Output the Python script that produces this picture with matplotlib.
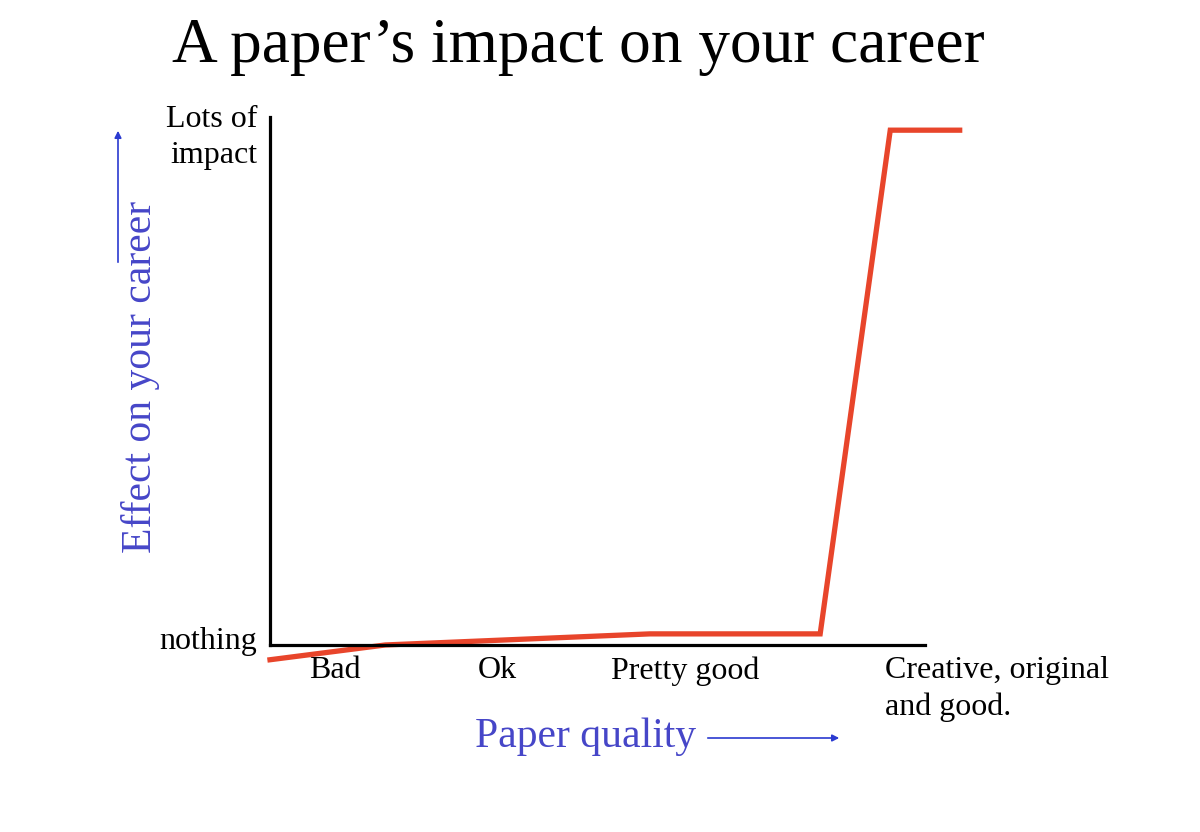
import matplotlib.pyplot as plt

plt.rcParams['font.family'] = ['Liberation Serif', 'DejaVu Serif']

# quality axis (0-100) vs career effect (0-100)
quality = [0, 17.6, 58.0, 84.0, 94.7, 105.3]
effect = [-2.8, 0, 2.1, 2.1, 97.5, 97.5]

x_tick_pos = [9.9, 34.7, 63.4, 93.9]
x_tick_labels = ["Bad", "Ok", "Pretty good", "Creative, original\nand good."]
y_tick_pos = [1.3, 97.5]
y_tick_labels = ["nothing", "Lots of\nimpact"]

blue = '#4646c8'
arrow_blue = '#2a3ad0'
red = '#e8452b'

fig = plt.figure(figsize=(12, 8.32), dpi=100)
ax = fig.add_axes([0.225, 0.2248, 0.5458, 0.6346])

ax.plot(quality, effect, color=red, lw=3.8, clip_on=False, solid_joinstyle='miter')

ax.set_xlim(0, 100)
ax.set_ylim(0, 100)

for s in ['top', 'right']:
    ax.spines[s].set_visible(False)
for s in ['left', 'bottom']:
    ax.spines[s].set_linewidth(2.3)
    ax.spines[s].set_color('black')

ax.set_xticks(x_tick_pos)
ax.set_xticklabels(x_tick_labels, fontsize=23, linespacing=1.35)
ax.set_yticks(y_tick_pos)
ax.set_yticklabels(y_tick_labels, fontsize=23, linespacing=1.35)
ax.tick_params(axis='both', length=0)
ax.tick_params(axis='x', pad=8)
ax.tick_params(axis='y', pad=9)

lbls = ax.get_xticklabels()
lbls[-1].set_ha('left')
lbls[-1].set_multialignment('left')

fig.text(0.482, 0.943, "A paper\u2019s impact on your career", fontsize=45.5,
         ha='center', va='center')

fig.text(0.488, 0.115, "Paper quality", fontsize=30, color=blue,
         ha='center', va='center')
fig.text(0.117, 0.547, "Effect on your career", fontsize=30, color=blue,
         ha='center', va='center', rotation=90)

# arrows
fig.add_artist(plt.matplotlib.patches.FancyArrowPatch(
    (705 / 1200, 1 - 738 / 832), (842 / 1200, 1 - 738 / 832),
    transform=fig.transFigure, arrowstyle='-|>', mutation_scale=10,
    color=arrow_blue, lw=1.2))
fig.add_artist(plt.matplotlib.patches.FancyArrowPatch(
    (118 / 1200, 1 - 265 / 832), (118 / 1200, 1 - 128 / 832),
    transform=fig.transFigure, arrowstyle='-|>', mutation_scale=10,
    color=arrow_blue, lw=1.2))

fig.savefig('out.png', dpi=100, facecolor='white')
